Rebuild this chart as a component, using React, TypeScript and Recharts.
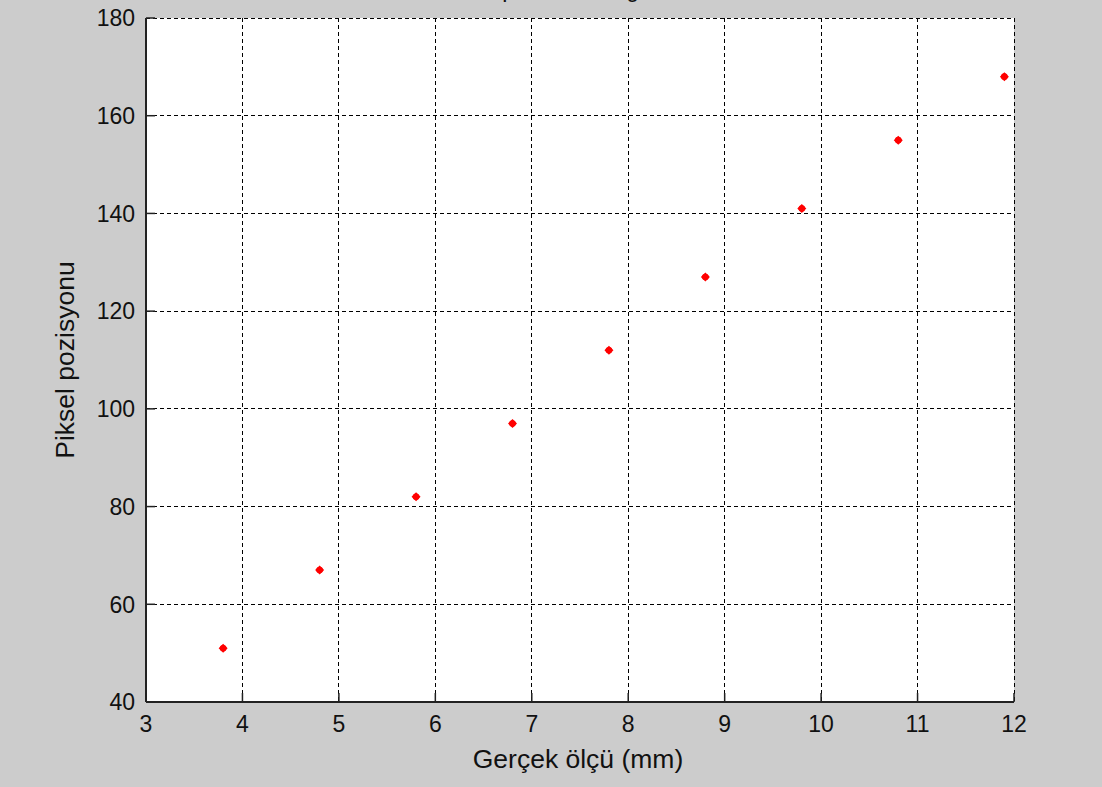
import React from 'react';
import { ScatterChart, Scatter, XAxis, YAxis, CartesianGrid } from 'recharts';

const xValues = [3.8, 4.8, 5.8, 6.8, 7.8, 8.8, 9.8, 10.8, 11.9];
const yValues = [51, 67, 82, 97, 112, 127, 141, 155, 168];
const xTicks = [3, 4, 5, 6, 7, 8, 9, 10, 11, 12];
const yTicks = [40, 60, 80, 100, 120, 140, 160, 180];
const titleText = 'Mesafe: piksel - mm grafik';
const xLabel = 'Gerçek ölçü (mm)';
const yLabel = 'Piksel pozisyonu';

const data = xValues.map((x, i) => ({ x, y: yValues[i] }));

const FONT = '"Liberation Sans", Arial, Helvetica, sans-serif';
const FS = 23;
const LFS = 26.5;
const TICK = 9;
const TEXT = '#111';

const XTickBottom = (props: any) => {
  const { x, y, payload } = props;
  return (
    <g>
      <line x1={x} y1={y} x2={x} y2={y - TICK} stroke="#222" strokeWidth={1.5} />
      <text x={x} y={y + 30} textAnchor="middle" fontSize={FS} fontFamily={FONT} fill={TEXT}>
        {payload.value}
      </text>
    </g>
  );
};

const XTickTop = (props: any) => {
  const { x, y } = props;
  return <line x1={x} y1={y} x2={x} y2={y + TICK} stroke="#222" strokeWidth={1.5} />;
};

const YTickLeft = (props: any) => {
  const { x, y, payload } = props;
  return (
    <g>
      <line x1={x} y1={y} x2={x + TICK} y2={y} stroke="#222" strokeWidth={1.5} />
      <text x={x - 11} y={y} dy="0.36em" textAnchor="end" fontSize={FS} fontFamily={FONT} fill={TEXT}>
        {payload.value}
      </text>
    </g>
  );
};

const YTickRight = (props: any) => {
  const { x, y } = props;
  return <line x1={x} y1={y} x2={x - TICK} y2={y} stroke="#222" strokeWidth={1.5} />;
};

const Marker = (props: any) => {
  const { cx, cy } = props;
  const r = 4.5;
  return (
    <g>
      <path d={`M${cx},${cy - r}L${cx + r},${cy}L${cx},${cy + r}L${cx - r},${cy}Z`} fill="#ff0000" />
      <circle cx={cx} cy={cy} r={3.3} fill="#ff0000" />
    </g>
  );
};

export default function App() {
  return (
    <div
      style={{
        position: 'fixed',
        left: 0,
        top: 0,
        width: 1102,
        height: 787,
        background: '#cccccc',
        overflow: 'hidden',
        fontFamily: FONT,
      }}
    >
      <div
        style={{
          position: 'absolute',
          left: 414,
          top: -23,
          fontSize: FS,
          lineHeight: '24px',
          color: TEXT,
          whiteSpace: 'nowrap',
        }}
      >
        {titleText}
      </div>
      <ScatterChart width={1102} height={787} margin={{ top: 18, right: 88, bottom: 0, left: 0 }}>
        <CartesianGrid
          stroke="#000"
          strokeDasharray="4 3"
          strokeWidth={1}
          shapeRendering="crispEdges"
          fill="#ffffff"
          fillOpacity={1}
          horizontalValues={yTicks}
          verticalValues={xTicks}
        />
        <XAxis
          dataKey="x"
          type="number"
          domain={[3, 12]}
          ticks={xTicks}
          interval={0}
          height={85}
          tickSize={0}
          tickMargin={0}
          tick={<XTickBottom />}
          axisLine={{ stroke: '#222', strokeWidth: 2 }}
          allowDataOverflow
        />
        <XAxis
          xAxisId="top"
          orientation="top"
          type="number"
          domain={[3, 12]}
          ticks={xTicks}
          interval={0}
          height={0}
          tickSize={0}
          tickMargin={0}
          tick={<XTickTop />}
          axisLine={{ stroke: '#222', strokeWidth: 2 }}
          allowDataOverflow
        />
        <YAxis
          dataKey="y"
          type="number"
          domain={[40, 180]}
          ticks={yTicks}
          interval={0}
          width={146}
          tickSize={0}
          tickMargin={0}
          tick={<YTickLeft />}
          axisLine={{ stroke: '#222', strokeWidth: 2 }}
          allowDataOverflow
        />
        <YAxis
          yAxisId="right"
          orientation="right"
          type="number"
          domain={[40, 180]}
          ticks={yTicks}
          interval={0}
          width={0}
          tickSize={0}
          tickMargin={0}
          tick={<YTickRight />}
          axisLine={{ stroke: '#222', strokeWidth: 2 }}
          allowDataOverflow
        />
        <Scatter data={data} shape={<Marker />} isAnimationActive={false} />
      </ScatterChart>
      <div
        style={{
          position: 'absolute',
          left: 578,
          top: 759,
          transform: 'translate(-50%, -50%)',
          fontSize: LFS,
          color: TEXT,
          whiteSpace: 'nowrap',
        }}
      >
        {xLabel}
      </div>
      <div
        style={{
          position: 'absolute',
          left: 65,
          top: 360,
          transform: 'translate(-50%, -50%) rotate(-90deg)',
          fontSize: LFS,
          color: TEXT,
          whiteSpace: 'nowrap',
        }}
      >
        {yLabel}
      </div>
    </div>
  );
}
